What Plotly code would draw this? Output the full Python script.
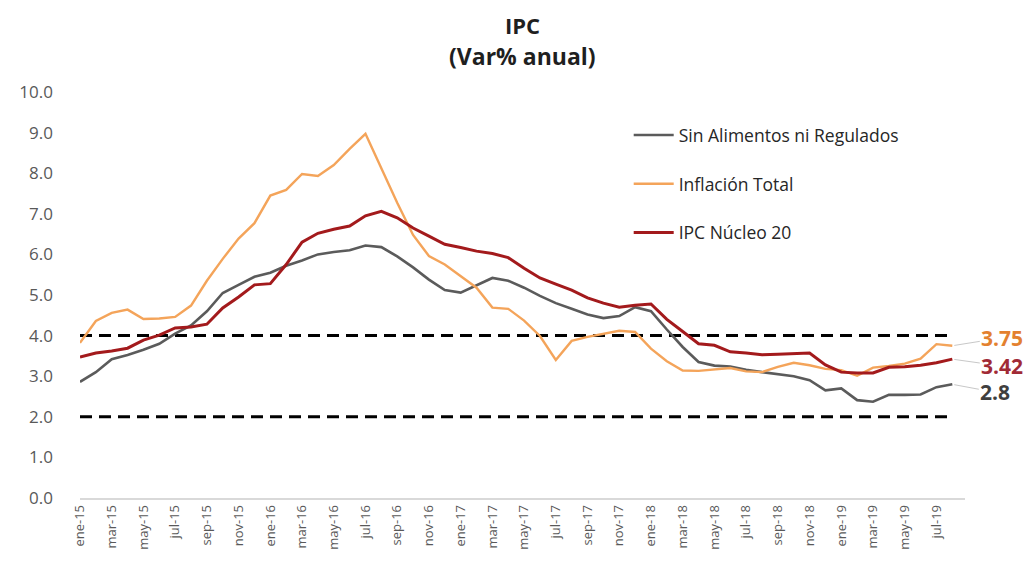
import plotly.graph_objects as go

months = ["ene", "feb", "mar", "abr", "may", "jun", "jul", "ago", "sep", "oct", "nov", "dic"]
categories = [f"{m}-{y}" for y in ["15", "16", "17", "18", "19"] for m in months][:56]

sin_alimentos = [2.86, 3.10, 3.42, 3.52, 3.65, 3.80, 4.05, 4.25, 4.60, 5.05, 5.25, 5.45,
                 5.55, 5.72, 5.85, 6.00, 6.06, 6.10, 6.22, 6.18, 5.95, 5.68, 5.38, 5.12,
                 5.06, 5.25, 5.42, 5.35, 5.18, 4.98, 4.80, 4.66, 4.52, 4.43, 4.48, 4.70,
                 4.60, 4.15, 3.72, 3.35, 3.26, 3.24, 3.16, 3.10, 3.05, 3.00, 2.90, 2.65,
                 2.70, 2.41, 2.37, 2.54, 2.54, 2.55, 2.73, 2.80]

inflacion_total = [3.82, 4.36, 4.56, 4.64, 4.41, 4.42, 4.46, 4.74, 5.35, 5.89, 6.39, 6.77,
                   7.45, 7.59, 7.98, 7.93, 8.20, 8.60, 8.97, 8.10, 7.27, 6.48, 5.96, 5.75,
                   5.47, 5.18, 4.69, 4.66, 4.37, 3.99, 3.40, 3.87, 3.97, 4.05, 4.12, 4.09,
                   3.68, 3.37, 3.14, 3.13, 3.16, 3.20, 3.12, 3.10, 3.23, 3.33, 3.27, 3.18,
                   3.15, 3.01, 3.21, 3.25, 3.31, 3.43, 3.79, 3.75]

nucleo_20 = [3.47, 3.57, 3.62, 3.69, 3.89, 4.01, 4.19, 4.21, 4.28, 4.68, 4.95, 5.25,
             5.28, 5.75, 6.30, 6.52, 6.62, 6.70, 6.95, 7.06, 6.90, 6.65, 6.45, 6.25,
             6.17, 6.08, 6.02, 5.92, 5.66, 5.42, 5.27, 5.12, 4.93, 4.80, 4.70, 4.75,
             4.78, 4.40, 4.10, 3.80, 3.76, 3.60, 3.57, 3.53, 3.54, 3.56, 3.57, 3.28,
             3.10, 3.08, 3.08, 3.22, 3.23, 3.27, 3.33, 3.42]

meta_sup = 4.0
meta_inf = 2.0

series_names = ["Sin Alimentos ni Regulados", "Inflación Total", "IPC Núcleo 20"]
series_colors = ["#5b5b5b", "#f4a45a", "#a31a1c"]
end_labels = ["2.8", "3.75", "3.42"]
end_label_colors = ["#3f3f3f", "#e3812f", "#a12a36"]

tick_labels = categories[::2]

FONT = "Open Sans"

fig = go.Figure()

for val, nm in [(meta_sup, "meta_sup"), (meta_inf, "meta_inf")]:
    fig.add_trace(go.Scatter(
        x=categories, y=[val] * len(categories), mode="lines",
        line=dict(color="#000000", width=3, dash="12px,7px"),
        showlegend=False, hoverinfo="skip", name=nm))

for name, data, color, w in zip(series_names, [sin_alimentos, inflacion_total, nucleo_20],
                                 series_colors, [2.6, 2.4, 3.0]):
    fig.add_trace(go.Scatter(
        x=categories, y=data, mode="lines", name=name,
        line=dict(color=color, width=w), legendgroup=name))

# end labels with short leader lines
offsets = {"2.8": (43, 8), "3.75": (50, -8), "3.42": (50, 7)}
for data, lab, col in zip([sin_alimentos, inflacion_total, nucleo_20], end_labels, end_label_colors):
    ax, ay = offsets[lab]
    fig.add_annotation(
        x=categories[-1], y=data[-1], xref="x", yref="y",
        text=f"<b>{lab}</b>", showarrow=True, arrowhead=0, arrowwidth=1,
        arrowcolor="#c8c8c8", ax=ax, ay=ay, xanchor="center", yanchor="middle",
        font=dict(family=FONT, size=21, color=col), standoff=2)

fig.add_annotation(text="<b>IPC</b>", xref="paper", yref="paper", x=0.5, y=1.0,
                   yshift=67, showarrow=False, yanchor="middle",
                   font=dict(family=FONT, size=22, color="#1f1f1f"))
fig.add_annotation(text="<b>(Var% anual)</b>", xref="paper", yref="paper", x=0.5, y=1.0,
                   yshift=36, showarrow=False, yanchor="middle",
                   font=dict(family=FONT, size=23, color="#1f1f1f"))

fig.update_layout(
    width=1024, height=556,
    margin=dict(l=72, r=67, t=84, b=66),
    paper_bgcolor="white", plot_bgcolor="white",
    font=dict(family=FONT, color="#595959"),
    showlegend=True,
    legend=dict(x=0.62, y=0.938, xanchor="left", yanchor="top",
                font=dict(family=FONT, size=17.5, color="#262626"),
                tracegroupgap=23, bgcolor="rgba(0,0,0,0)", itemwidth=40),
    xaxis=dict(type="category", categoryorder="array", categoryarray=categories,
               range=[0, 55.8], tickmode="array", tickvals=tick_labels, ticktext=tick_labels,
               tickangle=-90, tickfont=dict(family=FONT, size=13, color="#595959"),
               showgrid=False, showline=True, linecolor="#d9d9d9", linewidth=1.5,
               ticks="", zeroline=False),
    yaxis=dict(range=[0, 10], tickvals=[0, 1, 2, 3, 4, 5, 6, 7, 8, 9, 10],
               tickformat=".1f", tickfont=dict(family=FONT, size=17, color="#595959"),
               showgrid=False, zeroline=False, showline=False, ticks="",
               ticklabelstandoff=26),
)

fig.write_html("out.html")
